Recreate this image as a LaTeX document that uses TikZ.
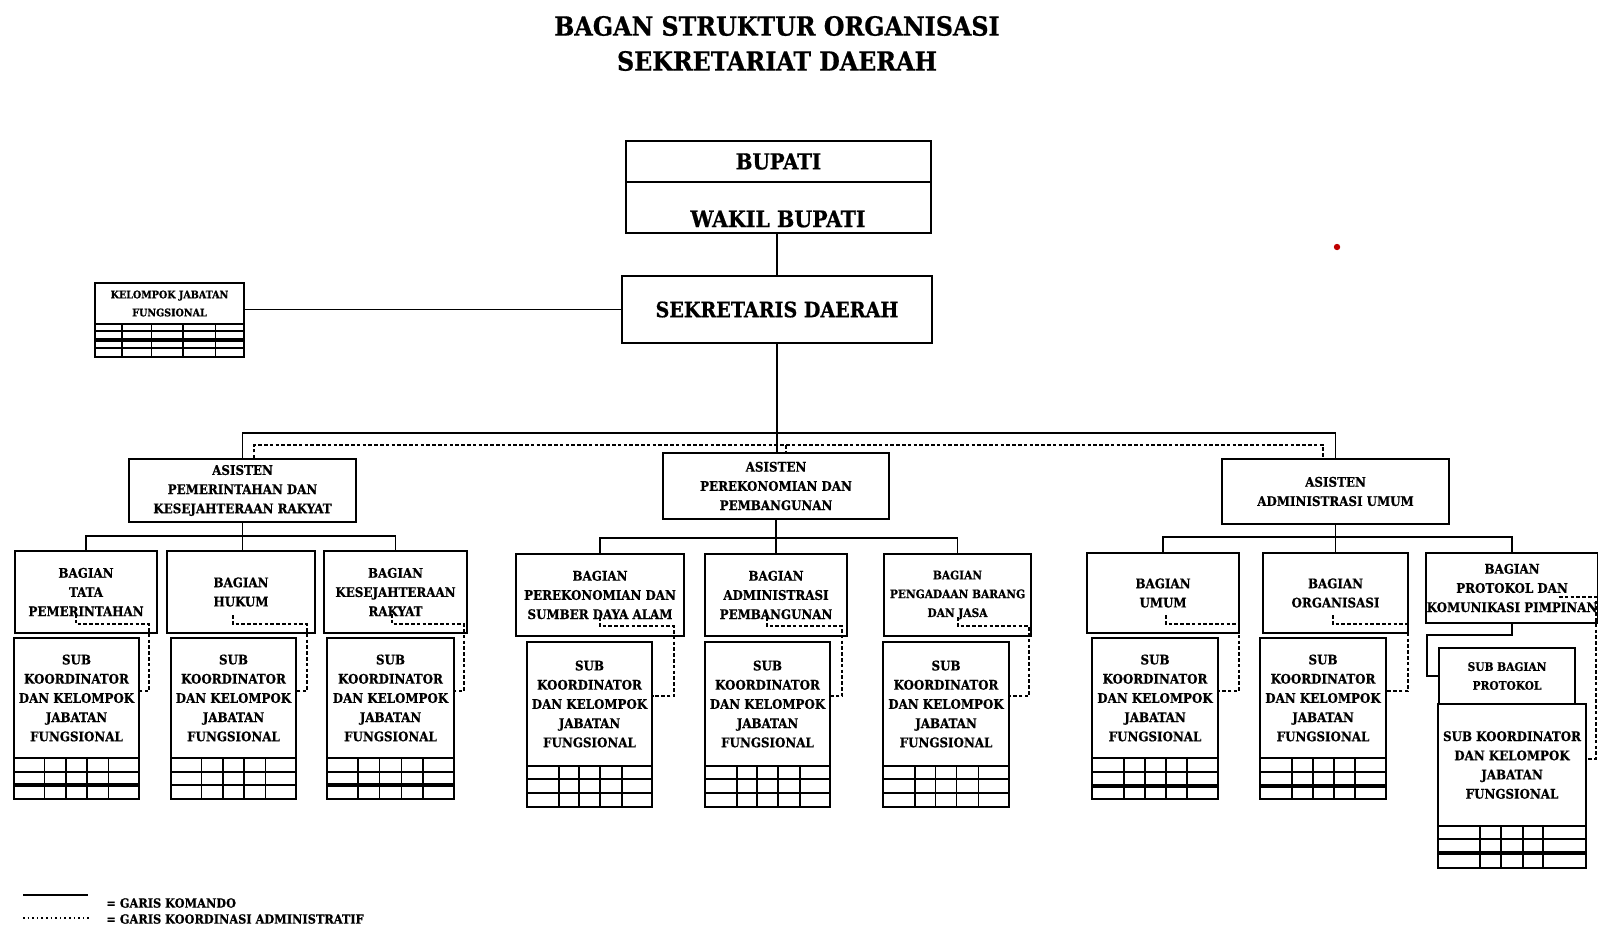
\documentclass[tikz,border=0pt]{standalone}
\usepackage{fontspec}
\newfontfamily\tf{DejaVu Serif Condensed Bold}[FakeBold=0.7]
\usetikzlibrary{calc}
\tikzset{
  box/.style={draw, line width=0.85pt, inner sep=0pt, align=center, fill=white},
  txt/.style={inner sep=0pt, align=center},
  cmd/.style={line width=0.9pt},
  koord/.style={line width=0.7pt, dash pattern=on 1.8pt off 1.1pt},
  gridl/.style={line width=0.7pt},
  fsmall/.style={font=\tf\fontsize{6.6}{9.6}\selectfont},
}
\newcommand\obox[7][]{\node[box,fsmall,minimum width={(#5-#3)*0.5pt},minimum height={(#6-#4)*0.5pt},#1] (#2) at ({(#3+#5)/2},{(#4+#6)/2}) {#7};}
\newcommand\ogrid[6]{%
  \draw[gridl] (#1,#3) rectangle (#2,#4);
  \foreach \yy/\lw in {#5} {\draw[line width=\lw] (#1,\yy) -- (#2,\yy);}
  \foreach \f in {#6} {\draw[gridl] ({#1+\f*(#2-#1)},#3) -- ({#1+\f*(#2-#1)},#4);}
}
\begin{document}
\begin{tikzpicture}[x=0.5pt,y=-0.5pt]
\useasboundingbox (0,0) rectangle (1598,927);
% title
\node[txt, font=\tf\fontsize{13.2}{17.5}\selectfont] (title) at (777,43.5) {BAGAN STRUKTUR ORGANISASI\\SEKRETARIAT DAERAH};
% top
\obox[font=\tf\fontsize{11}{12}\selectfont]{bupati}{626}{141}{931}{182}{BUPATI}
\obox{wakil}{626}{182}{931}{233}{}
\node[txt, font=\tf\fontsize{11.4}{12}\selectfont] (wakiltxt) at (778,219) {WAKIL BUPATI};
\obox[font=\tf\fontsize{10.6}{12}\selectfont]{sekda}{622}{276}{932}{343}{SEKRETARIS DAERAH}
\obox[font=\tf\fontsize{5.3}{9}\selectfont]{kjf}{95}{283}{244}{324}{KELOMPOK JABATAN\\FUNGSIONAL}
\ogrid{95}{244}{324}{357}{331/0.7pt,340/1.6pt,348/0.7pt}{0.18,0.38,0.59,0.81}
% asisten
\obox{as1}{129}{459}{356}{522}{ASISTEN\\PEMERINTAHAN DAN\\KESEJAHTERAAN RAKYAT}
\obox{as2}{663}{453}{889}{519}{ASISTEN\\PEREKONOMIAN DAN\\PEMBANGUNAN}
\obox{as3}{1222}{459}{1449}{524}{ASISTEN\\ADMINISTRASI UMUM}
% group 1
\obox{b1}{15}{551}{157}{633}{BAGIAN\\TATA\\PEMERINTAHAN}
\obox{b2}{167}{551}{315}{633}{BAGIAN\\HUKUM}
\obox{b3}{324}{551}{467}{633}{BAGIAN\\KESEJAHTERAAN\\RAKYAT}
\obox{s1}{14}{638}{139}{758}{SUB\\KOORDINATOR\\DAN KELOMPOK\\JABATAN\\FUNGSIONAL}
\obox{s2}{171}{638}{296}{758}{SUB\\KOORDINATOR\\DAN KELOMPOK\\JABATAN\\FUNGSIONAL}
\obox{s3}{327}{638}{454}{758}{SUB\\KOORDINATOR\\DAN KELOMPOK\\JABATAN\\FUNGSIONAL}
\ogrid{14}{139}{758}{799}{772/0.7pt,785/1.6pt}{0.245,0.415,0.585,0.755}
\ogrid{171}{296}{758}{799}{772/0.7pt,785/0.7pt}{0.245,0.415,0.585,0.755}
\ogrid{327}{454}{758}{799}{772/0.7pt,785/1.6pt}{0.245,0.415,0.585,0.755}
% group 2
\obox{p1}{516}{554}{684}{636}{BAGIAN\\PEREKONOMIAN DAN\\SUMBER DAYA ALAM}
\obox{p2}{705}{554}{847}{636}{BAGIAN\\ADMINISTRASI\\PEMBANGUNAN}
\obox[font=\tf\fontsize{5.9}{9.4}\selectfont]{p3}{884}{554}{1031}{636}{BAGIAN\\PENGADAAN BARANG\\DAN JASA}
\obox{q1}{527}{642}{652}{766}{SUB\\KOORDINATOR\\DAN KELOMPOK\\JABATAN\\FUNGSIONAL}
\obox{q2}{705}{642}{830}{766}{SUB\\KOORDINATOR\\DAN KELOMPOK\\JABATAN\\FUNGSIONAL}
\obox{q3}{883}{642}{1009}{766}{SUB\\KOORDINATOR\\DAN KELOMPOK\\JABATAN\\FUNGSIONAL}
\ogrid{527}{652}{766}{807}{779/0.7pt,793/0.7pt}{0.255,0.415,0.585,0.76}
\ogrid{705}{830}{766}{807}{779/0.7pt,793/0.7pt}{0.255,0.415,0.585,0.76}
\ogrid{883}{1009}{766}{807}{779/0.7pt,793/0.7pt}{0.255,0.415,0.585,0.76}
% group 3
\obox{u}{1087}{553}{1239}{633}{BAGIAN\\UMUM}
\obox{o}{1263}{553}{1408}{633}{BAGIAN\\ORGANISASI}
\obox{pk}{1426}{553}{1598}{623}{BAGIAN\\PROTOKOL DAN\\KOMUNIKASI PIMPINAN}
\obox{su}{1092}{638}{1218}{758}{SUB\\KOORDINATOR\\DAN KELOMPOK\\JABATAN\\FUNGSIONAL}
\obox{so}{1260}{638}{1386}{758}{SUB\\KOORDINATOR\\DAN KELOMPOK\\JABATAN\\FUNGSIONAL}
\ogrid{1092}{1218}{758}{799}{772/0.7pt,786/1.6pt}{0.254,0.42,0.587,0.754}
\ogrid{1260}{1386}{758}{799}{772/0.7pt,786/1.6pt}{0.254,0.42,0.587,0.754}
\obox[font=\tf\fontsize{5.9}{9.4}\selectfont]{sbp}{1439}{648}{1575}{704}{SUB BAGIAN\\PROTOKOL}
\obox{spk}{1438}{704}{1586}{826}{SUB KOORDINATOR\\DAN KELOMPOK\\JABATAN\\FUNGSIONAL}
\ogrid{1438}{1586}{826}{868}{839/0.7pt,853/1.6pt}{0.284,0.426,0.574,0.709}
% command lines
\draw[cmd] (sekda.north |- wakil.south) -- (sekda.north);
\draw[cmd] (sekda.west) -- (sekda.west -| kjf.east);
\draw[cmd] (sekda.south) -- (sekda.south |- as2.north);
\draw[cmd] (as1.north) -- (as1.north |- 0,433) -- (as3.north |- 0,433) -- (as3.north);
\draw[cmd] (as1.south) -- (as1.south |- b2.north);
\draw[cmd] (b1.north) -- (b1.north |- 0,536) -- (b3.north |- 0,536) -- (b3.north);
\draw[cmd] (as2.south) -- (as2.south |- p2.north);
\draw[cmd] (p1.north) -- (p1.north |- 0,538) -- (p3.north |- 0,538) -- (p3.north);
\draw[cmd] (as3.south) -- (as3.south |- o.north);
\draw[cmd] (u.north) -- (u.north |- 0,537) -- (pk.north |- 0,537) -- (pk.north);
\draw[cmd] (pk.south) |- (1427,635) |- (sbp.west);
% coordination lines
\draw[koord] ([xshift=5.75pt]as1.north) -- (254,445) -- (1323,445) -- (as3.north -| 1323,0);
\draw[koord] (786,445) -- (as2.north -| 786,0);
\coordinate (d1) at (76,614);
\draw[koord] (d1) -- (76,624) -- (149,624) -- (149,691) -- (s1.east |- 0,691);
\coordinate (d2) at (233,615);
\draw[koord] (d2) -- (233,624) -- (307,624) -- (307,691) -- (s2.east |- 0,691);
\coordinate (d3) at (392,614);
\draw[koord] (d3) -- (392,624) -- (464,624) -- (464,691) -- (s3.east |- 0,691);
\coordinate (d4) at (600,617);
\draw[koord] (d4) -- (600,626) -- (674,626) -- (674,696) -- (q1.east |- 0,696);
\coordinate (d5) at (767,617);
\draw[koord] (d5) -- (767,626) -- (842,626) -- (842,696) -- (q2.east |- 0,696);
\coordinate (d6) at (958,617);
\draw[koord] (d6) -- (958,626) -- (1029,626) -- (1029,696) -- (q3.east |- 0,696);
\coordinate (d7) at (1166,615);
\draw[koord] (d7) -- (1166,624) -- (1239,624) -- (1239,691) -- (su.east |- 0,691);
\coordinate (d8) at (1333,615);
\draw[koord] (d8) -- (1333,624) -- (1408,624) -- (1408,691) -- (so.east |- 0,691);
\coordinate (d9) at (1559,597);
\draw[koord] (d9) -- (1596,597) -- (1596,759) -- (spk.east |- 0,759);
% red mark
\fill[red!75!black] (1337,247) circle (3.2);
% legend
\coordinate (la) at (23,895); \coordinate (lb) at (88,895);
\coordinate (lc) at (23,918); \coordinate (ld) at (90,918);
\draw[line width=0.8pt] (la) -- (lb);
\draw[line width=1pt, dash pattern=on 0.8pt off 1.5pt] (lc) -- (ld);
\node[txt, anchor=west, font=\tf\fontsize{6.3}{7}\selectfont] (leg1) at (106,903) {= GARIS KOMANDO};
\node[txt, anchor=west, font=\tf\fontsize{6.3}{7}\selectfont] (leg2) at (106,919) {= GARIS KOORDINASI ADMINISTRATIF};
\end{tikzpicture}
\end{document}
